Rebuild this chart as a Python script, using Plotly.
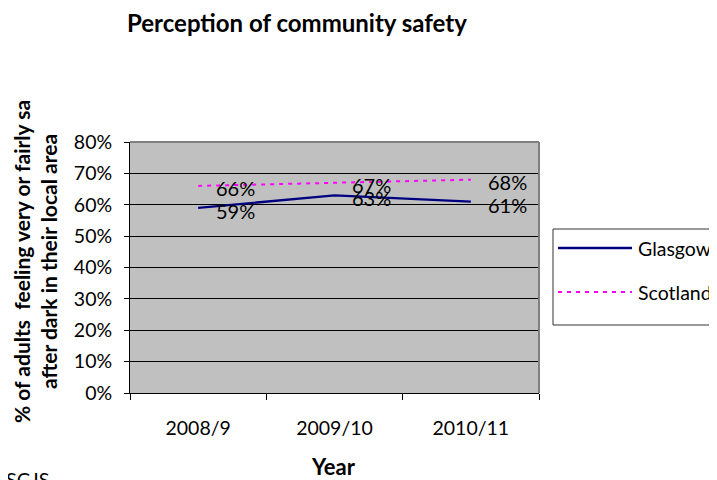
import plotly.graph_objects as go

years = ["2008/9", "2009/10", "2010/11"]
glasgow = [0.59, 0.63, 0.61]
scotland = [0.66, 0.67, 0.68]
y_ticks = [0, 0.1, 0.2, 0.3, 0.4, 0.5, 0.6, 0.7, 0.8]
y_tick_text = ["0%", "10%", "20%", "30%", "40%", "50%", "60%", "70%", "80%"]

FONT = "Lato"
# plot area in window pixels: x 130..539, y 142..393 (page body has an 8px margin)
def px(xp):
    return (xp - 130) / 409
def py(yp):
    return (393 - yp) / 251

fig = go.Figure()
fig.add_trace(go.Scatter(x=years, y=scotland, mode="lines", name="Scotland",
                         line=dict(color="#FF00FF", width=2, dash="4px,5px")))
fig.add_trace(go.Scatter(x=years, y=glasgow, mode="lines", name="Glasgow",
                         line=dict(color="#000080", width=2.3)))

ann = []
for x, v in zip(years, scotland):
    ann.append(dict(x=x, y=v, text=f"{round(v*100)}%", showarrow=False, xref="x", yref="y",
                    xshift=37, yshift=-2, font=dict(family=FONT, size=20, color="black")))
for x, v in zip(years, glasgow):
    ann.append(dict(x=x, y=v, text=f"{round(v*100)}%", showarrow=False, xref="x", yref="y",
                    xshift=37, yshift=-3, font=dict(family=FONT, size=20, color="black")))

ann.append(dict(x=px(297), y=py(22), xref="paper", yref="paper",
                text="<b>Perception of community safety</b>", showarrow=False,
                xanchor="center", yanchor="middle", font=dict(family=FONT, size=24, color="black")))
ann.append(dict(x=px(333), y=py(466), xref="paper", yref="paper", text="<b>Year</b>",
                showarrow=False, xanchor="center", yanchor="middle",
                font=dict(family=FONT, size=22, color="black")))
ann.append(dict(x=px(35), y=py(262), xref="paper", yref="paper",
                text="<b>% of adults  feeling very or fairly sa<br>after dark in their local area</b>",
                showarrow=False, textangle=-90, xanchor="center", yanchor="middle",
                font=dict(family=FONT, size=21, color="black")))
ann.append(dict(x=px(4), y=py(465), xref="paper", yref="paper", text="SCJS",
                showarrow=False, xanchor="left", yanchor="top",
                font=dict(family=FONT, size=20, color="black")))

shapes = [
    dict(type="line", xref="paper", yref="paper", x0=0, x1=1, y0=1, y1=1,
         line=dict(color="#808080", width=2), layer="above"),
    dict(type="line", xref="paper", yref="paper", x0=1, x1=1, y0=0, y1=1,
         line=dict(color="#808080", width=2), layer="above"),
    dict(type="rect", xref="paper", yref="paper", x0=px(553), x1=px(740), y0=py(325), y1=py(229),
         line=dict(color="#333333", width=1), fillcolor="white"),
    dict(type="line", xref="paper", yref="paper", x0=px(558), x1=px(632), y0=py(248), y1=py(248),
         line=dict(color="#000080", width=2.3)),
    dict(type="line", xref="paper", yref="paper", x0=px(558), x1=px(632), y0=py(292), y1=py(292),
         line=dict(color="#FF00FF", width=2, dash="4px,5px")),
]
ann.append(dict(x=px(636), y=py(248), xref="paper", yref="paper", text="Glasgow", showarrow=False,
                xanchor="left", yanchor="middle", font=dict(family=FONT, size=19.5, color="black")))
ann.append(dict(x=px(636), y=py(292), xref="paper", yref="paper", text="Scotland", showarrow=False,
                xanchor="left", yanchor="middle", font=dict(family=FONT, size=19.5, color="black")))

fig.update_layout(
    width=709, height=472,
    margin=dict(l=122, r=178, t=134, b=87),
    paper_bgcolor="white", plot_bgcolor="#C0C0C0",
    showlegend=False,
    annotations=ann, shapes=shapes,
    font=dict(family=FONT, size=19, color="black"),
)
fig.update_xaxes(type="category", range=[-0.5, 2.5], showline=True, linecolor="black", linewidth=1,
                 ticks="outside", tickson="boundaries", ticklen=6, tickcolor="black",
                 showgrid=False, ticklabelstandoff=18,
                 tickfont=dict(family=FONT, size=19.5, color="black"))
fig.update_yaxes(range=[0, 0.8], tickvals=y_ticks, ticktext=y_tick_text, showline=True,
                 linecolor="black", linewidth=1, ticks="outside", ticklen=5, tickcolor="black",
                 showgrid=True, gridcolor="black", gridwidth=1, zeroline=False,
                 ticklabelstandoff=8,
                 tickfont=dict(family=FONT, size=19.5, color="black"))

fig.write_html("out.html")
